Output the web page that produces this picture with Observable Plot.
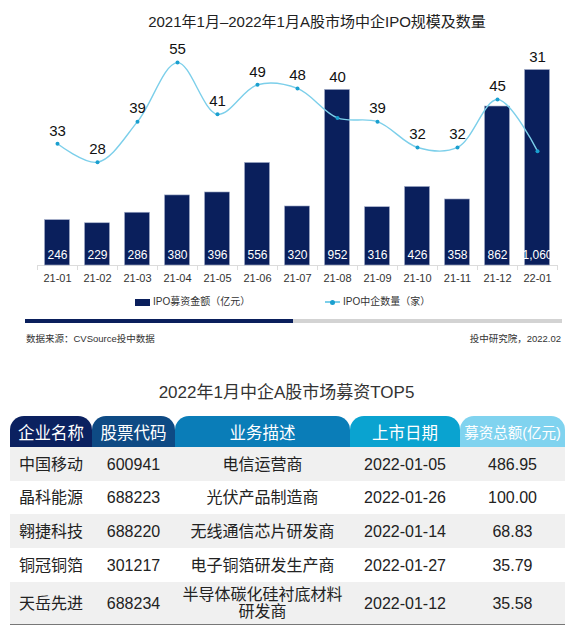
<!DOCTYPE html>
<html><head><meta charset="utf-8">
<script src="https://cdn.jsdelivr.net/npm/d3@7"></script>
<script src="https://cdn.jsdelivr.net/npm/@observablehq/plot@0.6"></script>
<style>
body{margin:0;background:#fff;font-family:"Liberation Sans","Noto Sans CJK SC",sans-serif;color:#222;}
#wrap{position:relative;width:573px;height:633px;overflow:hidden;}
.abs{position:absolute;}
#title{top:13px;left:0;width:573px;text-align:center;font-size:15px;line-height:18px;padding-left:61px;box-sizing:border-box;color:#222;white-space:nowrap}
#chart{top:36px;left:0;}
.leg{top:296px;font-size:10px;line-height:12px;color:#333;white-space:nowrap;display:flex;align-items:center}
.sw{display:inline-block;width:15px;height:7px;background:#0a1f5c;margin-right:3px}
.ln{display:inline-block;position:relative;width:15px;height:2px;background:#7ccfea;margin-right:3px}
.ln:after{content:"";position:absolute;left:5px;top:-1.5px;width:5px;height:5px;border-radius:50%;background:#1a9fcf}
#bar{top:319px;left:25px;width:537px;height:4px;background:#d3d3d3}
#bar div{width:268px;height:4px;background:#0a1f5c}
.src{top:333px;font-size:9.5px;line-height:12px;color:#333;white-space:nowrap}
#t2{top:383px;left:0;width:573px;text-align:center;font-size:17px;line-height:20px;color:#333}
table{position:absolute;top:416px;left:10px;width:555px;table-layout:fixed;border-collapse:collapse;border-spacing:0;font-size:16px}
th{color:#fff;font-weight:normal;height:31px;padding:0;border-radius:14px 14px 0 0;white-space:nowrap;overflow:hidden;text-align:center;font-size:16.5px}
th:last-child{font-size:14.5px}
td{text-align:center;padding:0 6px;color:#222;line-height:17px}
tbody tr:nth-child(odd) td{background:#f0f0f0}
tbody tr:last-child td{border-bottom:1.5px solid #777}
</style>
</head><body>
<div id="wrap">
  <div id="title" class="abs">2021年1月–2022年1月A股市场中企IPO规模及数量</div>
  <div id="chart" class="abs"></div>
  <div class="abs leg" style="left:135px"><span class="sw"></span>IPO募资金额（亿元）</div>
  <div class="abs leg" style="left:325px"><span class="ln"></span>IPO中企数量（家）</div>
  <div id="bar" class="abs"><div></div></div>
  <div class="abs src" style="left:26px">数据来源：CVSource投中数据</div>
  <div class="abs src" style="right:12px">投中研究院，2022.02</div>
  <div id="t2" class="abs">2022年1月中企A股市场募资TOP5</div>
  <table id="tbl">
    <colgroup><col style="width:82px"><col style="width:83px"><col style="width:175px"><col style="width:110px"><col style="width:105px"></colgroup>
    <thead><tr id="hdr"></tr></thead>
    <tbody id="body"></tbody>
  </table>
</div>
<script>
// Chart data
const months = ["21-01","21-02","21-03","21-04","21-05","21-06","21-07","21-08","21-09","21-10","21-11","21-12","22-01"];
const amounts = [246,229,286,380,396,556,320,952,316,426,358,862,1060];
const counts = [33,28,39,55,41,49,48,40,39,32,32,45,31];

// Table data
const headers = ["企业名称","股票代码","业务描述","上市日期","募资总额(亿元)"];
const headerColors = ["#0b2160","#0e4a84","#0a7db8","#0aa3d0","#80d3ef"];
const companies = ["中国移动","晶科能源","翱捷科技","铜冠铜箔","天岳先进"];
const codes = ["600941","688223","688220","301217","688234"];
const descs = ["电信运营商","光伏产品制造商","无线通信芯片研发商","电子铜箔研发生产商","半导体碳化硅衬底材料研发商"];
const dates = ["2022-01-05","2022-01-26","2022-01-14","2022-01-27","2022-01-12"];
const totals = ["486.95","100.00","68.83","35.79","35.58"];

const K = 20; // count -> amount axis scale factor (secondary axis)
const data = months.map((m, i) => ({month: m, amount: amounts[i], count: counts[i]}));
const fmt = d3.format(",");

const chart = Plot.plot({
  width: 573, height: 256,
  marginLeft: 37, marginRight: 16, marginTop: 33.5, marginBottom: 27,
  x: {domain: months, padding: 0, label: null, tickSize: 0, tickPadding: 9},
  y: {domain: [0, 1060], axis: null},
  style: {fontSize: "11px", fontFamily: '"Liberation Sans","Noto Sans CJK SC",sans-serif', color: "#333", overflow: "visible", background: "transparent"},
  marks: [
    Plot.ruleY([0], {stroke: "#dcdcdc"}),
    Plot.ruleX(data, {x: "month", y1: 0, y2: 0, dx: -20, insetBottom: -5, stroke: "#dcdcdc"}),
    Plot.ruleX(data.slice(-1), {x: "month", y1: 0, y2: 0, dx: 20, insetBottom: -5, stroke: "#dcdcdc"}),
    Plot.barY(data, {x: "month", y: "amount", fill: "#0a1f5c", insetLeft: 7.5, insetRight: 7.5, stroke: "#a3aeca", strokeWidth: 0.6}),
    Plot.text(data, {x: "month", y: 0, dy: -10, text: d => fmt(d.amount), fill: "white", fontSize: 12}),
    Plot.line(data, {x: "month", y: d => d.count * K, curve: "catmull-rom", stroke: "#7ccfea", strokeWidth: 1.4}),
    Plot.dot(data, {x: "month", y: d => d.count * K, r: 2, fill: "#1a9fcf", stroke: "none"}),
    Plot.text(data, {x: "month", y: d => Math.max(d.count * K, d.amount), dy: -13, text: "count", fontSize: 15, fill: "#111"})
  ]
});
document.getElementById("chart").appendChild(chart);

// Table
const hdr = document.getElementById("hdr");
headers.forEach((h, i) => {
  const th = document.createElement("th");
  th.textContent = h;
  th.style.background = headerColors[i];
  hdr.appendChild(th);
});
const rowHeights = [34, 33, 34, 34, 42];
const body = document.getElementById("body");
companies.forEach((c, i) => {
  const tr = document.createElement("tr");
  [c, codes[i], descs[i], dates[i], totals[i]].forEach(v => {
    const td = document.createElement("td");
    td.textContent = v;
    td.style.height = rowHeights[i] + "px";
    tr.appendChild(td);
  });
  body.appendChild(tr);
});
</script>
</body></html>
